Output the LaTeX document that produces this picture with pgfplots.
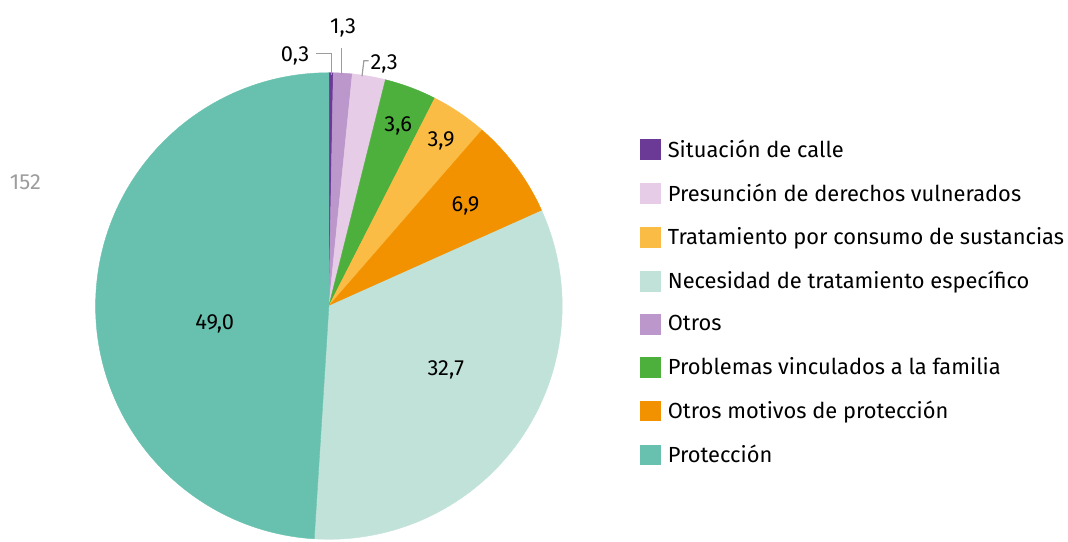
\documentclass[border=0pt]{standalone}
\usepackage{pgfplots}
\pgfplotsset{compat=1.18}
\usepackage{pgfplotstable}
\usepackage{fontspec}
\setmainfont{Fira Sans}

\definecolor{calle}{HTML}{6B3A96}
\definecolor{otros}{HTML}{BB97CB}
\definecolor{presuncion}{HTML}{E6CCE6}
\definecolor{familia}{HTML}{4DAF3C}
\definecolor{tratamiento}{HTML}{FBBC45}
\definecolor{motivos}{HTML}{F29200}
\definecolor{necesidad}{HTML}{C0E2D9}
\definecolor{proteccion}{HTML}{68C1AE}
\definecolor{leader}{HTML}{9D9D9D}

% slices clockwise from 12 o'clock; lx ly = label position (axis units, radius 1)
\pgfplotstableread{
value  color        lx      ly
0.3    calle       -0.145   1.073
1.3    otros        0.061   1.193
2.3    presuncion   0.237   1.040
3.6    familia      0.297   0.770
3.9    tratamiento  0.481   0.707
6.9    motivos      0.586   0.431
32.7   necesidad    0.501  -0.275
49.0   proteccion  -0.489  -0.078
}\piedata

\begin{document}
\begin{tikzpicture}[font=\fontsize{11}{13}\selectfont]
\begin{axis}[
  at={(165.5pt,115.5pt)}, anchor=origin,
  scale only axis, width=234.8pt, height=234.8pt,
  xmin=-1, xmax=1, ymin=-1, ymax=1,
  axis lines=none, clip=false,
  /pgf/number format/assume math mode=true,
  legend style={
    at={(1.166,0.866)}, anchor=north west,
    draw=none, fill=none, inner sep=0pt,
    font=\fontsize{11}{13}\selectfont,
    row sep=7.85pt,
    cells={anchor=west},
    /tikz/every odd column/.append style={column sep=1.5pt},
  },
  legend cell align=left,
  legend image code/.code={\fill[#1, draw=none] (0pt,-5.25pt) rectangle (10.5pt,5.25pt);},
]
\pgfplotstablegetrowsof{\piedata}
\pgfmathtruncatemacro\lastrow{\pgfplotsretval-1}
\def\cumval{0}
\pgfplotsforeachungrouped \i in {0,...,\lastrow}{%
  \pgfplotstablegetelem{\i}{value}\of\piedata \let\sliceval=\pgfplotsretval
  \pgfplotstablegetelem{\i}{color}\of\piedata \let\slicecol=\pgfplotsretval
  \pgfplotstablegetelem{\i}{lx}\of\piedata \let\labx=\pgfplotsretval
  \pgfplotstablegetelem{\i}{ly}\of\piedata \let\laby=\pgfplotsretval
  \pgfmathsetmacro\angA{90-3.6*\cumval}%
  \pgfmathsetmacro\cumval{\cumval+\sliceval}%
  \pgfmathsetmacro\angB{90-3.6*\cumval}%
  \edef\temp{%
    \noexpand\fill[\slicecol, draw=\slicecol, line width=0.2pt] (axis cs:0,0) -- (axis cs:{cos(\angA)},{sin(\angA)}) arc[start angle=\angA, end angle=\angB, radius=1] -- cycle;
    \noexpand\node[text=black, inner sep=0pt] at (axis cs:\labx,\laby) {\noexpand\pgfmathprintnumber[fixed,fixed zerofill,precision=1,use comma,assume math mode=true]{\sliceval}};
  }%
  \temp
}
% leader lines for the small slices
\draw[leader, line width=0.6pt] (axis cs:0.0125,0.99) -- (axis cs:0.0125,1.081) -- (axis cs:-0.057,1.081);
\draw[leader, line width=0.6pt] (axis cs:0.053,0.99) -- (axis cs:0.053,1.106);
\draw[leader, line width=0.6pt] (axis cs:0.142,0.985) -- (axis cs:0.150,1.051) -- (axis cs:0.170,1.051);

% legend (order as in the reference)
\addlegendimage{fill=calle}
\addlegendentry{Situación de calle}
\addlegendimage{fill=presuncion}
\addlegendentry{Presunción de derechos vulnerados}
\addlegendimage{fill=tratamiento}
\addlegendentry{Tratamiento por consumo de sustancias}
\addlegendimage{fill=necesidad}
\addlegendentry{Necesidad de tratamiento específico}
\addlegendimage{fill=otros}
\addlegendentry{Otros}
\addlegendimage{fill=familia}
\addlegendentry{Problemas vinculados a la familia}
\addlegendimage{fill=motivos}
\addlegendentry{Otros motivos de protección}
\addlegendimage{fill=proteccion}
\addlegendentry{Protección}
\end{axis}
\node[text=leader, inner sep=0pt] at (12.75pt,178pt) {152};
\path[use as bounding box] (0pt,0pt) rectangle (534pt,269.5pt);
\end{tikzpicture}
\end{document}
